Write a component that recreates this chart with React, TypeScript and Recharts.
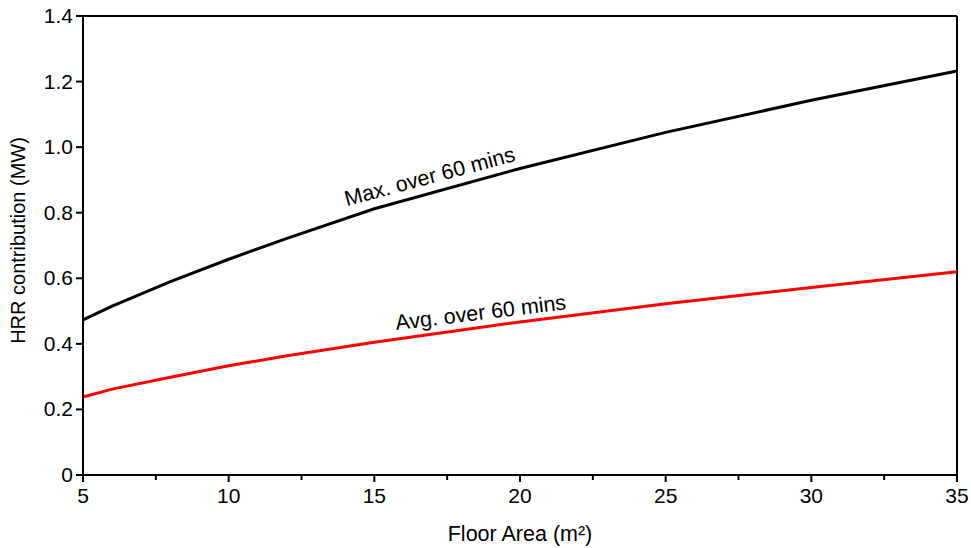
import { LineChart, Line, XAxis, YAxis, ReferenceLine, ReferenceDot } from 'recharts'

const AREAS = [5, 6, 8, 10, 12, 15, 20, 25, 30, 35]
const MAX_HRR = [0.473, 0.515, 0.59, 0.658, 0.722, 0.812, 0.935, 1.045, 1.143, 1.232]
const AVG_HRR = [0.238, 0.262, 0.298, 0.333, 0.364, 0.405, 0.467, 0.522, 0.572, 0.62]
const X_TICKS = [5, 7.5, 10, 12.5, 15, 17.5, 20, 22.5, 25, 27.5, 30, 32.5, 35]
const Y_TICKS = [0, 0.2, 0.4, 0.6, 0.8, 1.0, 1.2, 1.4]

const FONT = '"Liberation Sans", Arial, sans-serif'

const data = AREAS.map((a, i) => ({ area: a, max: MAX_HRR[i], avg: AVG_HRR[i] }))

function XTick(props: any) {
  const { x, y, payload } = props
  const major = payload.value % 5 === 0
  return (
    <g>
      <line x1={x} x2={x} y1={major ? y : y - 1} y2={major ? y + 7 : y + 5} stroke="#000" strokeWidth={2} />
      {major && (
        <text x={x} y={y + 28} textAnchor="middle" fontSize={21} fontFamily={FONT} fill="#000">
          {payload.value}
        </text>
      )}
    </g>
  )
}

function YTick(props: any) {
  const { x, y, payload } = props
  const v = payload.value
  return (
    <g>
      <line x1={x - 7} x2={x} y1={y} y2={y} stroke="#000" strokeWidth={2} />
      <text x={x - 10} y={y + 7} textAnchor="end" fontSize={21} fontFamily={FONT} fill="#000">
        {v === 0 ? '0' : v.toFixed(1)}
      </text>
    </g>
  )
}

const lineLabel = (text: string, angle: number) => (p: any) => (
  <text
    x={p.cx}
    y={p.cy}
    textAnchor="middle"
    dominantBaseline="central"
    fontSize={21.5}
    fontFamily={FONT}
    fill="#000"
    transform={`rotate(${angle} ${p.cx} ${p.cy})`}
  >
    {text}
  </text>
)

export default function App() {
  return (
    <div style={{ position: 'absolute', left: 0, top: 0, background: '#fff', fontFamily: FONT }}>
      <LineChart width={971} height={548} data={data} margin={{ top: 16, right: 14, bottom: 0, left: 0 }}>
        <XAxis
          type="number"
          dataKey="area"
          domain={[5, 35]}
          ticks={X_TICKS}
          interval={0}
          tickSize={0}
          tickMargin={0}
          tickLine={false}
          tick={<XTick />}
          height={73}
          axisLine={{ stroke: '#000', strokeWidth: 2 }}
          label={{ value: 'Floor Area (m²)', position: 'insideBottom', offset: 7, fontSize: 21.5, fill: '#000', fontFamily: FONT }}
        />
        <YAxis
          type="number"
          domain={[0, 1.4]}
          ticks={Y_TICKS}
          interval={0}
          tickSize={0}
          tickMargin={0}
          tickLine={false}
          tick={<YTick />}
          width={83}
          axisLine={{ stroke: '#000', strokeWidth: 2 }}
          label={{
            content: ({ viewBox }: any) => {
              const cx = viewBox.x + 25
              const cy = viewBox.y + viewBox.height / 2 - 5
              return (
                <text
                  x={cx}
                  y={cy}
                  textAnchor="middle"
                  fontSize={20}
                  fontFamily={FONT}
                  fill="#000"
                  transform={`rotate(-90 ${cx} ${cy})`}
                >
                  HRR contribution (MW)
                </text>
              )
            },
          }}
        />
        <ReferenceLine y={1.4} stroke="#000" strokeWidth={2} />
        <ReferenceLine x={35} stroke="#000" strokeWidth={2} />
        <Line dataKey="max" type="linear" stroke="#000" strokeWidth={3} dot={false} isAnimationActive={false} />
        <Line dataKey="avg" type="linear" stroke="#ff0000" strokeWidth={3} dot={false} isAnimationActive={false} />
        <ReferenceDot x={16.9} y={0.91} r={0} shape={lineLabel('Max. over 60 mins', -15)} />
        <ReferenceDot x={18.65} y={0.495} r={0} shape={lineLabel('Avg. over 60 mins', -7)} />
      </LineChart>
    </div>
  )
}
